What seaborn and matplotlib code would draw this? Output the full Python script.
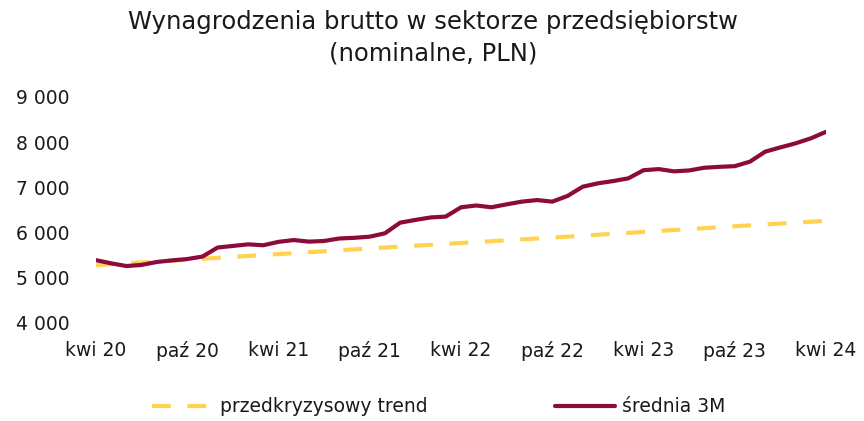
import numpy as np
import pandas as pd
import matplotlib
matplotlib.use("Agg")
import matplotlib.pyplot as plt
import seaborn as sns

# monthly data, kwi 2020 .. kwi 2024
avg_3m = [
    5390, 5320, 5260, 5285, 5350, 5385, 5415, 5470, 5670, 5705,
    5740, 5720, 5795, 5835, 5800, 5815, 5870, 5885, 5910, 5985,
    6220, 6280, 6335, 6355, 6560, 6600, 6560, 6625, 6685, 6720,
    6685, 6810, 7015, 7090, 7140, 7200, 7380, 7405, 7355, 7375,
    7435, 7455, 7470, 7570, 7790, 7885, 7975, 8085, 8230,
]
# pre-crisis trend read at every tick (every 6 months)
trend_months = [0, 6, 12, 18, 24, 30, 36, 42, 48]
trend_vals = [5280, 5400, 5525, 5650, 5770, 5890, 6015, 6140, 6260]

tick_labels = ["kwi 20", "paź 20", "kwi 21", "paź 21", "kwi 22",
               "paź 22", "kwi 23", "paź 23", "kwi 24"]
y_ticks = [4000, 5000, 6000, 7000, 8000, 9000]

RED = "#8C0B3C"
YELLOW = "#FFD24F"
TXT = "#1A1A1A"

sns.set_style("white")
plt.rcParams["font.family"] = ["DejaVu Sans"]

df_avg = pd.DataFrame({"m": np.arange(len(avg_3m)), "v": avg_3m})
df_trend = pd.DataFrame({"m": trend_months, "v": trend_vals})

fig = plt.figure(figsize=(8.64, 4.21), dpi=100)
ax = fig.add_axes([96 / 864, 1 - 323 / 421, 730 / 864, 226 / 421])

sns.lineplot(data=df_trend, x="m", y="v", ax=ax, color=YELLOW, linewidth=3,
             label="przedkryzysowy trend", dashes=False)
ax.lines[-1].set_dashes([4.5, 4])
sns.lineplot(data=df_avg, x="m", y="v", ax=ax, color=RED, linewidth=3,
             label="średnia 3M")

ax.set_xlim(0, 48)
ax.set_ylim(4000, 9000)
ax.set_xticks(trend_months)
ax.set_xticklabels(tick_labels)
ax.set_yticks(y_ticks)
ax.set_yticklabels([f"{v:,}".replace(",", " ") for v in y_ticks])
ax.tick_params(axis="both", length=0, labelsize=13.5, colors=TXT)
ax.tick_params(axis="x", pad=13)
ax.tick_params(axis="y", pad=19)
ax.set_xlabel("")
ax.set_ylabel("")
for spine in ax.spines.values():
    spine.set_visible(False)

handles, labels = ax.get_legend_handles_labels()
ax.get_legend().remove()
fig.legend(handles, labels, loc="center", bbox_to_anchor=(439 / 864, 1 - 407 / 421),
           ncol=2, frameon=False, fontsize=13.5, handlelength=3.2,
           columnspacing=6.8, handletextpad=0.4, labelcolor=TXT)

fig.suptitle("Wynagrodzenia brutto w sektorze przedsiębiorstw\n(nominalne, PLN)",
             x=433 / 864, y=0.976, fontsize=17.5, color=TXT, linespacing=1.4)

fig.savefig("out.png", dpi=100)
plt.close(fig)
